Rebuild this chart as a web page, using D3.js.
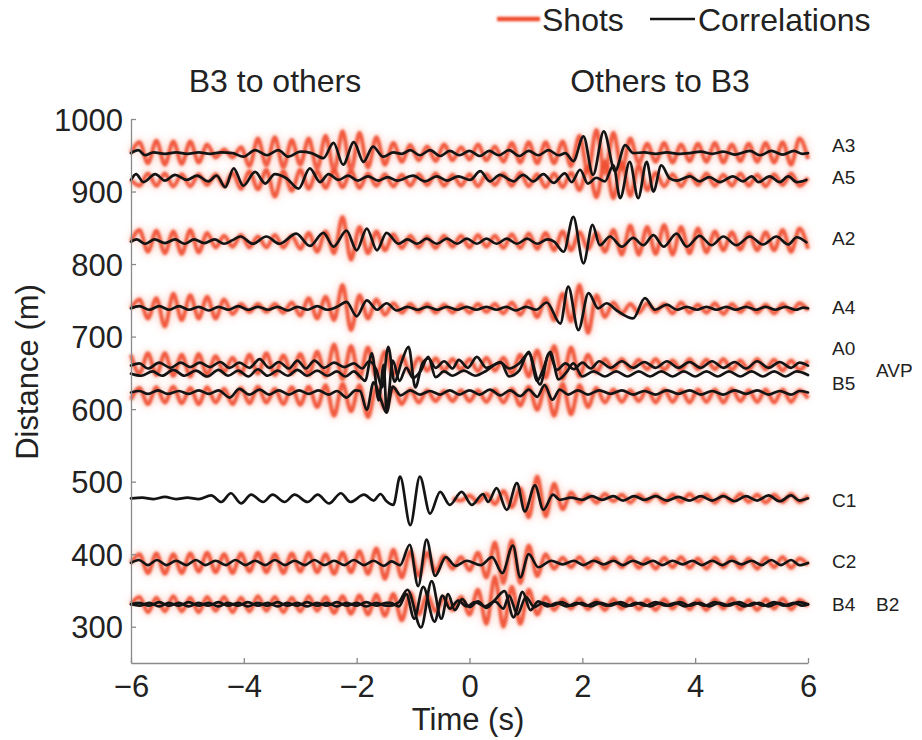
<!DOCTYPE html>
<html><head><meta charset="utf-8">
<script src="https://cdn.jsdelivr.net/npm/d3@7"></script>
<style>
body{margin:0;background:#fff}
text{font-family:"Liberation Sans",Arial,sans-serif;fill:#222}
</style></head>
<body><svg id="c" width="922" height="740"></svg>
<script>
// ---------- DATA ----------
const xTicks = [-6,-4,-2,0,2,4,6];
const yTicks = [300,400,500,600,700,800,900,1000];
const legendNames = ["Shots","Correlations"];
const panelTitles = ["B3 to others","Others to B3"];

// time grid of the shot traces (extrema every half period)
const shotTimes = [-6,-5.85,-5.7,-5.55,-5.4,-5.25,-5.1,-4.95,-4.8,-4.65,-4.5,-4.35,-4.2,-4.05,-3.9,-3.75,-3.6,-3.45,-3.3,-3.15,-3,-2.85,-2.7,-2.55,-2.4,-2.25,-2.1,-1.95,-1.8,-1.65,-1.5,-1.35,-1.2,-1.05,-0.9,-0.75,-0.6,-0.45,-0.3,-0.15,0,0.15,0.3,0.45,0.6,0.75,0.9,1.05,1.2,1.35,1.5,1.65,1.8,1.95,2.1,2.25,2.4,2.55,2.7,2.85,3,3.15,3.3,3.45,3.6,3.75,3.9,4.05,4.2,4.35,4.5,4.65,4.8,4.95,5.1,5.25,5.4,5.55,5.7,5.85,6];

// shot amplitudes (m) on shotTimes
const shotA3 = [0,15,-14,17,-16,16,-15,16,-13,12, -6,5,-6,8,-18,20,-17,22,-20,18, -16,20,-22,24,-25,30,-24,28,-20,22, -16,14,-12,11,-10,9,-11,12,-10,8, -9,12,-10,9,-12,14,-13,15,-14,15, -14,16,-18,24,-26,32,-28,28,-22,20, -14,13,-12,14,-13,12,-11,13,-12,14, -13,12,-11,13,-12,14,-13,15,-16,20, -8];
const shotA5 = [0,-8,9,-8,9,-9,8,-9,8,-7, 8,-9,10,-12,12,-13,14,-23,12,-15, 14,-12,12,-11,13,-10,12,-11,9,-8, 8,-9,7,-8,8,-7,9,-8,7,-8, 8,-9,8,-7,9,-8,10,-9,8,-10, 9,-10,10,-14,18,-24,26,-25,24,-22, 20,-14,10,-9,8,-9,8,-7,9,-8, 7,-8,9,-8,7,-9,8,-7,9,-8, 3];
const shotA2 = [0,16,-14,15,-16,14,-17,16,-15,12, -8,8,-7,9,-8,7,-8,9,-8,8, -10,12,-14,14,-16,34,-25,20,-16,14, -12,10,-9,8,-8,7,-9,8,-7,8, -8,9,-7,8,-9,10,-9,11,-10,12, -12,14,-12,13,-10,12,-14,16,-18,22, -18,20,-17,23,-18,20,-16,18,-15,14, -12,13,-11,12,-12,13,-12,16,-14,18, -10];
const shotA4 = [0,12,-14,14,-25,20,-16,18,-14,16, -14,12,-8,6,-5,6,-5,6,-6,8, -10,14,-14,16,-16,32,-30,18,-14,12, -9,7,-6,6,-5,6,-6,5,-6,5, -6,6,-5,6,-7,8,-9,10,-12,14, -16,20,-18,32,-34,18,-12,8,-7,6, -6,7,-5,6,-7,8,-6,5,-6,7, -8,6,-5,7,-6,5,-7,6,-5,7, -3];
const shotA0 = [14,-12,16,-14,16,-15,14,-16,15,-14, 12,-10,10,-12,14,-12,16,-14,13,-12, 15,-14,18,-16,28,-20,26,-18,24,-16, 18,-14,12,-10,10,-8,9,-8,8,-7, 8,-9,10,-8,10,-12,14,-16,20,-18, 26,-20,24,-16,14,-10,8,-7,8,-6, 7,-6,8,-7,6,-7,8,-6,7,-6, 8,-7,6,-7,8,-6,7,-8,6,-7, 6];
const shotB5 = [-6,10,-12,11,-10,12,-11,10,-12,11, -10,9,-12,10,-11,12,-10,9,-12,11, -13,12,-16,14,-28,16,-22,14,-30,12, -18,10,-12,8,-10,7,-8,6,-8,7, -8,7,-9,8,-10,9,-14,12,-20,14, -28,16,-26,14,-16,10,-10,8,-9,7, -8,9,-10,8,-9,7,-10,8,-9,8, -10,9,-8,7,-9,8,-10,8,-9,7, -4];
const shotC1 = [null,null,null,null,null,null,null,null,null,null, null,null,null,null,null,null,null,null,null,null, null,null,null,null,null,null,null,null,null,null, null,null,null,null,null,null,null,null,0,-3, 4,-5,6,-8,10,-12,14,-26,30,-25, 20,-15,8,-6,5,-6,6,-4,5,-6, 5,-4,5,-6,5,-5,6,-4,5,-6, 5,-5,6,-5,5,-6,5,-5,6,-5, 4];
const shotC2 = [0,12,-14,13,-15,12,-14,13,-12,14, -13,12,-14,13,-12,14,-13,12,-14,13, -12,14,-13,12,-15,14,-13,16,-15,20, -22,18,-20,16,-18,14,-12,10,-8,8, -10,14,-20,28,-28,31,-28,24,-18,12, -8,7,-6,8,-7,6,-8,7,-6,8, -7,6,-8,7,-6,8,-7,6,-8,7, -6,8,-7,6,-8,7,-6,8,-7,6, -3];
const shotB4 = [0,10,-11,9,-10,11,-10,9,-11,10, -9,10,-11,9,-10,11,-9,10,-11,9, -10,11,-9,10,-12,11,-13,12,-14,13, -16,14,-22,16,-14,12,-10,9,-8,10, -14,20,-27,38,-31,24,-27,20,-14,10, -8,7,-6,8,-7,6,-8,7,-6,8, -7,6,-8,7,-6,8,-7,6,-8,7, -6,8,-7,6,-8,7,-6,8,-7,6, -3];
const shotSeries = [shotA3,shotA5,shotA2,shotA4,shotA0,shotB5,shotC1,shotC2,shotB4];
const shotBase = [953,916,831,739,661,619,477,388,331];

// correlation traces: [time (s), amplitude (m)] at extrema
const corrA3 = [[-6,0],[-5.87,4],[-5.75,-3],[-5.6,1],[-5.4,-1],[-5.2,1],[-5.0,-1],[-4.8,1],[-4.6,-1],[-4.4,1],[-4.2,0],[-4.01,-5],[-3.8,4],[-3.59,-3],[-3.39,4],[-3.21,-5],[-3.0,2],[-2.8,0],[-2.59,-7],[-2.41,14],[-2.24,-16],[-2.05,15],[-1.88,-12],[-1.71,9],[-1.53,-5],[-1.35,1],[-1.2,-1],[-1.05,4],[-0.88,-3],[-0.7,4],[-0.52,-4],[-0.35,3],[-0.18,-3],[0,3],[0.18,-4],[0.35,3],[0.52,-3],[0.7,4],[0.88,-4],[1.05,3],[1.22,-3],[1.4,4],[1.58,-3],[1.7,0],[1.84,-11],[2.02,23],[2.19,-30],[2.38,30],[2.58,-25],[2.76,11],[2.9,0],[3.1,1],[3.3,-1],[3.5,1],[3.7,-1],[3.9,0],[4.1,2],[4.3,-1],[4.5,2],[4.7,-2],[4.97,3],[5.15,-3],[5.35,3],[5.55,-2],[5.75,3],[5.9,-1],[6,0]];
const corrA5 = [[-6,0],[-5.91,8],[-5.78,-3],[-5.57,8],[-5.4,-1],[-5.22,7],[-5.01,0],[-4.83,6],[-4.63,-2],[-4.48,6],[-4.33,-10],[-4.18,16],[-4.01,-8],[-3.8,11],[-3.62,-5],[-3.45,8],[-3.24,2],[-3.03,-12],[-2.83,16],[-2.65,-3],[-2.5,8],[-2.32,0],[-2.15,6],[-1.98,-1],[-1.8,5],[-1.62,-1],[-1.45,4],[-1.28,-1],[-1.0,6],[-0.79,-2],[-0.58,5],[-0.4,-1],[-0.2,5],[0.01,0],[0.19,12],[0.36,-2],[0.54,7],[0.78,-2],[0.95,7],[1.13,-2],[1.31,8],[1.49,-4],[1.69,9],[1.81,-3],[1.96,14],[2.1,-5],[2.25,3],[2.4,-2],[2.55,20],[2.67,-25],[2.84,25],[2.99,-25],[3.14,25],[3.26,-16],[3.4,20],[3.55,2],[3.67,-1],[3.91,5],[4.08,-2],[4.25,4],[4.44,-3],[4.67,5],[4.85,-2],[5.0,5],[5.12,-3],[5.32,5],[5.5,-3],[5.65,5],[5.8,-3],[5.97,0]];
const corrA2 = [[-6,0],[-5.9,3],[-5.75,-3],[-5.58,3],[-5.4,-2],[-5.22,3],[-5.05,-3],[-4.88,3],[-4.7,-2],[-4.52,3],[-4.35,-3],[-4.2,2],[-4.06,7],[-3.84,-3],[-3.6,7],[-3.37,-3],[-3.07,11],[-2.83,-6],[-2.59,12],[-2.41,-7],[-2.18,15],[-2.0,-12],[-1.82,18],[-1.64,-12],[-1.47,12],[-1.26,-3],[-1.1,3],[-0.93,-3],[-0.76,4],[-0.58,-3],[-0.4,4],[-0.22,-3],[-0.05,4],[0.13,-3],[0.3,4],[0.48,-3],[0.66,4],[0.84,-3],[1.02,4],[1.2,-3],[1.38,3],[1.5,0],[1.67,-14],[1.84,34],[2.02,-30],[2.18,23],[2.31,-5],[2.49,7],[2.7,-7],[2.9,5],[3.08,-5],[3.26,9],[3.44,-7],[3.67,11],[3.85,-7],[4.08,8],[4.29,-5],[4.5,7],[4.73,-5],[4.97,7],[5.2,-4],[5.44,7],[5.65,-4],[5.8,6],[5.97,-1]];
const corrA4 = [[-6,0],[-5.85,3],[-5.68,-2],[-5.5,3],[-5.32,-2],[-5.15,3],[-4.97,-2],[-4.8,2],[-4.62,-3],[-4.45,2],[-4.27,-2],[-4.1,3],[-3.92,-2],[-3.75,2],[-3.57,-2],[-3.4,2],[-3.22,-3],[-3.05,2],[-2.87,-2],[-2.7,3],[-2.52,-2],[-2.35,2],[-2.18,9],[-2.0,-11],[-1.82,11],[-1.64,-2],[-1.47,7],[-1.29,-3],[-1.1,2],[-0.92,-2],[-0.75,2],[-0.57,-2],[-0.4,2],[-0.22,-2],[-0.05,2],[0.12,-2],[0.3,2],[0.48,-2],[0.65,2],[0.82,-3],[1.0,2],[1.18,-2],[1.37,8],[1.61,-21],[1.75,30],[1.93,-30],[2.11,21],[2.28,0],[2.43,7],[2.61,-3],[2.9,-14],[3.11,14],[3.29,-2],[3.5,5],[3.68,-2],[3.85,2],[4.03,-2],[4.2,2],[4.38,-2],[4.55,2],[4.72,-2],[4.9,2],[5.08,-2],[5.25,2],[5.42,-2],[5.6,2],[5.78,-2],[5.92,1],[6,0]];
const corrA0 = [[-6,0],[-5.85,3],[-5.7,-4],[-5.5,4],[-5.3,-3],[-5.12,4],[-4.95,-2],[-4.78,4],[-4.6,-2],[-4.42,5],[-4.25,-3],[-4.08,4],[-3.9,-3],[-3.72,9],[-3.55,-3],[-3.38,5],[-3.2,-4],[-3.05,7],[-2.9,-4],[-2.75,7],[-2.58,-3],[-2.4,4],[-2.22,-2],[-2.05,3],[-1.9,-4],[-1.78,6],[-1.65,-6],[-1.55,-30],[-1.44,26],[-1.33,-22],[-1.2,6],[-1.08,26],[-0.96,-30],[-0.84,2],[-0.73,10],[-0.6,-3],[-0.45,6],[-0.3,-4],[-0.19,8],[-0.03,-3],[0.13,12],[0.3,-3],[0.55,4],[0.7,-4],[0.88,3],[1.05,17],[1.25,-26],[1.41,17],[1.55,-6],[1.7,3],[1.85,-5],[2.0,4],[2.15,-4],[2.3,6],[2.5,-3],[2.7,6],[2.9,-3],[3.1,5],[3.3,-3],[3.5,6],[3.7,-3],[3.9,5],[4.1,-3],[4.3,6],[4.5,-3],[4.7,5],[4.9,-4],[5.1,6],[5.3,-3],[5.5,5],[5.7,-3],[5.85,4],[6,0]];
const corrAVP = [[-6,0],[-5.82,-3],[-5.62,3],[-5.45,-3],[-5.25,5],[-5.05,-3],[-4.85,4],[-4.65,-4],[-4.45,5],[-4.28,-3],[-4.1,4],[-3.92,-4],[-3.75,6],[-3.58,-3],[-3.4,4],[-3.22,-3],[-3.05,5],[-2.88,-3],[-2.7,4],[-2.52,-3],[-2.35,3],[-2.2,-4],[-2.05,3],[-1.94,-4],[-1.85,-10],[-1.73,28],[-1.61,-37],[-1.52,12],[-1.47,-52],[-1.36,18],[-1.24,-10],[-1.12,8],[-1.0,-6],[-0.87,3],[-0.73,23],[-0.6,-5],[-0.45,3],[-0.3,-3],[-0.1,4],[0.1,-3],[0.3,4],[0.55,16],[0.7,-4],[0.88,4],[1.05,30],[1.2,-10],[1.3,5],[1.43,30],[1.58,-8],[1.72,2],[1.84,14],[2.0,-4],[2.2,3],[2.4,-4],[2.6,3],[2.8,-4],[3.0,3],[3.2,-4],[3.4,3],[3.6,-4],[3.8,3],[4.0,-4],[4.2,3],[4.4,-4],[4.6,3],[4.8,-4],[5.0,3],[5.2,-4],[5.4,3],[5.6,-4],[5.8,3],[6,-2]];
const corrB5 = [[-6,0],[-5.85,2],[-5.7,-2],[-5.52,3],[-5.35,-2],[-5.15,2],[-4.98,-2],[-4.8,3],[-4.62,-2],[-4.45,3],[-4.25,-7],[-4.08,5],[-3.9,-3],[-3.72,4],[-3.55,-3],[-3.38,3],[-3.2,-3],[-3.02,3],[-2.85,-2],[-2.68,3],[-2.5,-3],[-2.35,2],[-2.18,-7],[-2.02,3],[-1.94,2],[-1.82,-24],[-1.7,14],[-1.58,-8],[-1.47,-28],[-1.36,8],[-1.22,-4],[-1.05,3],[-0.88,-3],[-0.7,2],[-0.52,-3],[-0.35,3],[-0.18,-3],[0,3],[0.18,-3],[0.36,4],[0.55,-4],[0.72,3],[0.9,-5],[1.05,4],[1.2,-6],[1.33,10],[1.47,-10],[1.6,4],[1.75,-3],[1.92,3],[2.1,-3],[2.3,3],[2.5,-2],[2.7,3],[2.9,-3],[3.1,2],[3.3,-3],[3.5,3],[3.7,-2],[3.9,3],[4.1,-3],[4.3,2],[4.5,-3],[4.7,3],[4.9,-2],[5.1,3],[5.3,-3],[5.5,2],[5.7,-3],[5.85,2],[6,0]];
const corrC1 = [[-6,0],[-5.8,1],[-5.6,-1],[-5.4,2],[-5.2,-1],[-5.0,1],[-4.8,-1],[-4.58,4],[-4.4,-5],[-4.23,7],[-4.05,-7],[-3.87,5],[-3.66,-5],[-3.49,5],[-3.28,-5],[-3.1,5],[-2.87,-5],[-2.69,5],[-2.49,-7],[-2.28,7],[-2.11,-5],[-1.87,5],[-1.7,-3],[-1.58,6],[-1.47,-4],[-1.35,-9],[-1.23,30],[-1.05,-37],[-0.88,30],[-0.7,-21],[-0.52,9],[-0.35,-9],[-0.14,9],[0.04,-9],[0.24,6],[0.33,-5],[0.48,14],[0.66,-16],[0.84,21],[0.98,-18],[1.16,18],[1.31,-16],[1.48,5],[1.6,-2],[1.8,1],[2.0,-2],[2.17,3],[2.35,-2],[2.55,3],[2.72,-3],[2.92,3],[3.1,-2],[3.3,3],[3.5,-3],[3.7,2],[3.9,-3],[4.1,3],[4.3,-3],[4.5,3],[4.7,-4],[4.9,3],[5.1,-3],[5.3,4],[5.5,-4],[5.7,4],[5.85,-3],[6,0]];
const corrC2 = [[-6,0],[-5.86,4],[-5.7,-3],[-5.54,4],[-5.37,-3],[-5.2,3],[-5.02,-3],[-4.85,4],[-4.68,-3],[-4.5,3],[-4.32,-3],[-4.15,4],[-3.97,-3],[-3.8,3],[-3.62,-3],[-3.45,4],[-3.27,-3],[-3.1,3],[-2.92,-3],[-2.75,4],[-2.57,-3],[-2.4,3],[-2.22,-3],[-2.05,4],[-1.87,-3],[-1.7,3],[-1.52,-4],[-1.38,2],[-1.23,-3],[-1.06,25],[-0.91,-32],[-0.76,32],[-0.61,-18],[-0.42,8],[-0.25,-4],[-0.05,3],[0.2,-3],[0.4,8],[0.58,-14],[0.77,24],[0.9,-20],[1.05,12],[1.22,-6],[1.45,3],[1.65,-2],[1.85,3],[2.02,-3],[2.2,3],[2.38,-2],[2.55,3],[2.72,-3],[2.9,3],[3.08,-2],[3.25,3],[3.42,-3],[3.6,3],[3.78,-2],[3.95,3],[4.12,-3],[4.3,3],[4.48,-3],[4.65,3],[4.82,-2],[5.0,3],[5.18,-3],[5.35,4],[5.52,-3],[5.7,4],[5.85,-3],[6,0]];
const corrB4 = [[-6,0],[-5.85,2],[-5.68,-2],[-5.5,3],[-5.33,-2],[-5.15,2],[-4.98,-3],[-4.8,2],[-4.63,-2],[-4.45,3],[-4.28,-2],[-4.1,2],[-3.93,-3],[-3.75,2],[-3.58,-2],[-3.4,3],[-3.23,-2],[-3.05,2],[-2.88,-3],[-2.7,2],[-2.53,-2],[-2.35,3],[-2.18,-2],[-2.0,2],[-1.83,-3],[-1.65,2],[-1.48,-2],[-1.4,-2],[-1.25,3],[-1.1,20],[-0.86,-32],[-0.67,32],[-0.5,-20],[-0.38,14],[-0.26,-8],[-0.13,7],[0,-4],[0.15,4],[0.3,-5],[0.45,6],[0.62,18],[0.78,-18],[0.94,17],[1.08,-8],[1.22,4],[1.38,-3],[1.55,2],[1.72,-3],[1.9,2],[2.07,-2],[2.25,3],[2.42,-2],[2.6,2],[2.77,-3],[2.95,2],[3.12,-2],[3.3,3],[3.47,-2],[3.65,2],[3.82,-3],[4.0,2],[4.17,-2],[4.35,3],[4.52,-2],[4.7,2],[4.87,-3],[5.05,2],[5.22,-2],[5.4,3],[5.57,-2],[5.75,2],[5.9,-2],[6,0]];
const corrB2 = [[-6,0],[-5.85,-2],[-5.68,2],[-5.5,-3],[-5.33,2],[-5.15,-2],[-4.98,3],[-4.8,-2],[-4.63,2],[-4.45,-3],[-4.28,2],[-4.1,-2],[-3.93,3],[-3.75,-2],[-3.58,2],[-3.4,-3],[-3.23,2],[-3.05,-2],[-2.88,3],[-2.7,-2],[-2.53,2],[-2.35,-3],[-2.18,2],[-2.0,-2],[-1.83,3],[-1.65,-2],[-1.48,2],[-1.4,2],[-1.25,-3],[-1.12,14],[-0.98,-20],[-0.82,24],[-0.62,-24],[-0.48,12],[-0.35,-6],[-0.2,5],[-0.05,-3],[0.1,3],[0.27,-3],[0.45,4],[0.6,-6],[0.7,12],[0.85,-14],[1.0,10],[1.15,-4],[1.3,2],[1.47,-2],[1.63,3],[1.8,-2],[1.98,2],[2.15,-3],[2.33,2],[2.5,-2],[2.68,3],[2.85,-2],[3.03,2],[3.2,-3],[3.38,2],[3.55,-2],[3.73,3],[3.9,-2],[4.08,2],[4.25,-3],[4.43,2],[4.6,-2],[4.78,3],[4.95,-2],[5.13,2],[5.3,-3],[5.48,2],[5.65,-2],[5.83,3],[6,0]];
const corrSeries = [corrA3,corrA5,corrA2,corrA4,corrA0,corrAVP,corrB5,corrC1,corrC2,corrB4,corrB2];
const corrBase = [953,916,831,739,660,649,623,477,388,331,331];

// station labels on the right: name, distance (m), column
const stationNames = ["A3","A5","A2","A4","A0","AVP","B5","C1","C2","B4","B2"];
const stationDist  = [964,920,836,740,684,654,636,474,390,331,331];
const stationCol   = [0,0,0,0,0,1,0,0,0,0,1];

// ---------- CHART ----------
const svg = d3.select("#c");
const x = d3.scaleLinear().domain([-6,6]).range([131,808]);
const y = d3.scaleLinear().domain([250,1000]).range([663,119]);

const defs = svg.append("defs");
defs.append("filter").attr("id","soft").attr("filterUnits","userSpaceOnUse")
  .attr("x",0).attr("y",0).attr("width",922).attr("height",740)
  .append("feGaussianBlur").attr("stdDeviation",0.9);
defs.append("filter").attr("id","halo").attr("filterUnits","userSpaceOnUse")
  .attr("x",0).attr("y",0).attr("width",922).attr("height",740)
  .append("feGaussianBlur").attr("stdDeviation",3);

const mkLine = base => d3.line()
  .defined(d => d[1] !== null)
  .x(d => x(d[0])).y(d => y(base + d[1]))
  .curve(d3.curveMonotoneX);

const gShot = svg.append("g");
shotSeries.forEach((arr,k) => {
  const pts = shotTimes.map((t,i) => [t, arr[i]]);
  const ln = mkLine(shotBase[k]);
  gShot.append("path").attr("d", ln(pts)).attr("fill","none")
    .attr("stroke","#f7a08a").attr("stroke-width",9).attr("stroke-opacity",0.3)
    .attr("filter","url(#halo)");
  gShot.append("path").attr("d", ln(pts)).attr("fill","none")
    .attr("stroke","#ef4a2b").attr("stroke-width",4).attr("stroke-opacity",0.9)
    .attr("stroke-linejoin","round").attr("filter","url(#soft)");
});

const gCorr = svg.append("g");
corrSeries.forEach((arr,k) => {
  gCorr.append("path").attr("d", mkLine(corrBase[k])(arr)).attr("fill","none")
    .attr("stroke","#141414").attr("stroke-width",2.7)
    .attr("stroke-linejoin","round").attr("stroke-linecap","round");
});

// axes
const axCol = "#8a8a8a";
const gx = svg.append("g").attr("transform","translate(0,663)")
  .call(d3.axisBottom(x).tickValues(xTicks).tickSizeInner(-5).tickSizeOuter(0).tickPadding(12));
const gy = svg.append("g").attr("transform","translate(131,0)")
  .call(d3.axisLeft(y).tickValues(yTicks).tickFormat(d3.format("d")).tickSizeInner(-5).tickSizeOuter(0).tickPadding(8));
[gx,gy].forEach(g => {
  g.select(".domain").attr("stroke",axCol).attr("stroke-width",1.3);
  g.selectAll(".tick line").attr("stroke",axCol).attr("stroke-width",1.3);
  g.selectAll(".tick text").attr("font-size",31).attr("fill","#222")
    .style("font-family","'Liberation Sans',Arial,sans-serif");
});
gx.selectAll(".tick text").attr("dy","0.72em");
gy.selectAll(".tick text").attr("dy","0.36em");

// axis labels
svg.append("text").attr("x",468).attr("y",730).attr("text-anchor","middle")
  .attr("font-size",31).text("Time (s)");
svg.append("text").attr("transform","translate(38,372) rotate(-90)").attr("text-anchor","middle")
  .attr("font-size",31).text("Distance (m)");

// panel titles
svg.append("text").attr("x",275).attr("y",92).attr("text-anchor","middle").attr("font-size",32).text(panelTitles[0]);
svg.append("text").attr("x",660).attr("y",92).attr("text-anchor","middle").attr("font-size",32).text(panelTitles[1]);

// legend
const lg = svg.append("g");
lg.append("line").attr("x1",497).attr("x2",540).attr("y1",19).attr("y2",19)
  .attr("stroke","#ef4a2b").attr("stroke-width",4.5).attr("filter","url(#soft)");
lg.append("text").attr("x",542).attr("y",31).attr("font-size",32).text(legendNames[0]);
lg.append("line").attr("x1",650).attr("x2",695).attr("y1",19).attr("y2",19)
  .attr("stroke","#141414").attr("stroke-width",2.7);
lg.append("text").attr("x",698).attr("y",31).attr("font-size",32).text(legendNames[1]);

// station labels
stationNames.forEach((nm,i) => {
  svg.append("text").attr("x", stationCol[i] ? 876 : 832).attr("y", y(stationDist[i]))
    .attr("dy","0.36em").attr("font-size",19).text(nm);
});
</script></body></html>
